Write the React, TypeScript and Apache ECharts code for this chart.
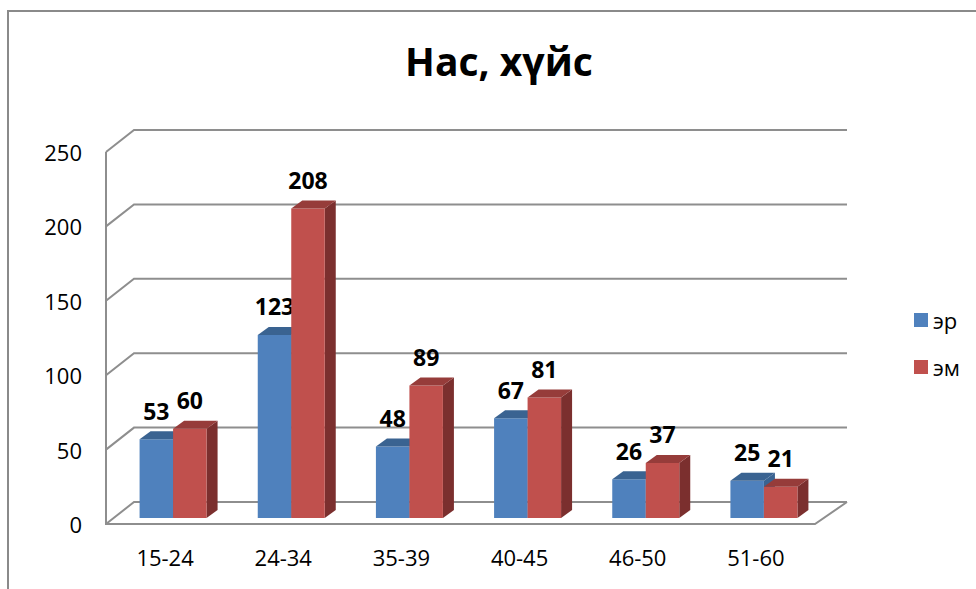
import React, { useEffect, useRef } from "react";
import * as echarts from "echarts";

const categories = ["15-24", "24-34", "35-39", "40-45", "46-50", "51-60"];
const erValues = [53, 123, 48, 67, 26, 25];
const emValues = [60, 208, 89, 81, 37, 21];
const yTicks = [0, 50, 100, 150, 200, 250];

const FONT = "'Open Sans', 'Noto Sans', sans-serif";
const GRID_COLOR = "#8e8e8e";
// perspective offsets
const WALL_DX = 28;
const WALL_DY = -22;
const BAR_SHIFT_X = 8;
const BAR_SHIFT_Y = -6;
const BAR_DX = 11;
const BAR_DY = -8;
const BAR_W = 33.5;

function makeBarRender(side: "left" | "right", front: string, top: string, sideColor: string) {
  return (params: any, api: any) => {
    const ci = api.value(0);
    const val = api.value(1);
    const p = api.coord([ci, val]);
    const p0 = api.coord([ci, 0]);
    const cx = p[0] + BAR_SHIFT_X;
    const x1 = side === "left" ? cx - BAR_W : cx;
    const x2 = side === "left" ? cx : cx + BAR_W;
    const yt = p[1] + BAR_SHIFT_Y;
    const yb = p0[1] + BAR_SHIFT_Y;
    return {
      type: "group",
      children: [
        {
          type: "polygon",
          shape: { points: [[x2, yt], [x2 + BAR_DX, yt + BAR_DY], [x2 + BAR_DX, yb + BAR_DY], [x2, yb]] },
          style: { fill: sideColor },
        },
        {
          type: "rect",
          shape: { x: x1, y: yt, width: x2 - x1, height: yb - yt },
          style: { fill: front },
        },
        {
          type: "polygon",
          shape: { points: [[x1, yt], [x2, yt], [x2 + BAR_DX, yt + BAR_DY], [x1 + BAR_DX, yt + BAR_DY]] },
          style: { fill: top },
        },
        {
          type: "text",
          x: (x1 + x2) / 2,
          y: yt + BAR_DY - 9,
          style: {
            text: String(val),
            fill: "#000",
            font: `bold 23px ${FONT}`,
            textAlign: "center",
            textVerticalAlign: "bottom",
          },
        },
      ],
    };
  };
}

function renderWalls(params: any, api: any) {
  const v = api.value(1);
  const cs = params.coordSys;
  const x0 = cs.x;
  const x1 = cs.x + cs.width;
  const y = api.coord([0, v])[1];
  const stroke = { stroke: GRID_COLOR, lineWidth: 2, fill: "none" };
  const children: any[] = [
    {
      type: "polyline",
      shape: { points: [[x0, y], [x0 + WALL_DX, y + WALL_DY], [x1 + 32, y + WALL_DY]] },
      style: stroke,
    },
  ];
  if (v === 0) {
    const yTop = api.coord([0, yTicks[yTicks.length - 1]])[1];
    children.push({
      type: "polyline",
      shape: { points: [[x0, yTop], [x0, y], [x1, y], [x1 + 32, y + WALL_DY]] },
      style: stroke,
    });
  }
  return { type: "group", children };
}

export default function App() {
  const ref = useRef<HTMLDivElement>(null);
  useEffect(() => {
    if (!ref.current) return;
    const chart = echarts.init(ref.current, null, { renderer: "svg" });
    chart.setOption({
      animation: false,
      backgroundColor: "#fff",
      textStyle: { fontFamily: FONT },
      graphic: [
        {
          type: "rect",
          z: -10,
          shape: { x: 8, y: 11, width: 1200, height: 1000 },
          style: { fill: "none", stroke: "#8a8a8a", lineWidth: 2 },
        },
        {
          type: "text",
          x: 499,
          y: 60,
          style: {
            text: "Нас, хүйс",
            font: `bold 39px ${FONT}`,
            fill: "#000",
            textAlign: "center",
            textVerticalAlign: "middle",
          },
        },
      ],
      legend: {
        data: ["эр", "эм"],
        orient: "vertical",
        left: 909,
        top: 304,
        icon: "rect",
        itemWidth: 14,
        itemHeight: 14,
        itemGap: 25,
        textStyle: { fontSize: 22, color: "#000", fontFamily: FONT },
      },
      grid: { left: 106, top: 152, width: 709, height: 372 },
      xAxis: {
        type: "category",
        data: categories,
        axisLine: { show: false },
        axisTick: { show: false },
        axisLabel: { fontSize: 22, color: "#000", margin: 22, fontFamily: FONT },
      },
      yAxis: {
        type: "value",
        min: 0,
        max: 250,
        interval: 50,
        axisLine: { show: false },
        axisTick: { show: false },
        splitLine: { show: false },
        axisLabel: { fontSize: 22, color: "#000", margin: 24, fontFamily: FONT },
      },
      series: [
        {
          name: "walls",
          type: "custom",
          z: 1,
          renderItem: renderWalls,
          data: yTicks.map((v) => [0, v]),
          encode: { x: 0, y: 1 },
          silent: true,
        },
        {
          name: "эр",
          type: "custom",
          z: 2,
          itemStyle: { color: "#4F81BD" },
          renderItem: makeBarRender("left", "#4F81BD", "#3A6391", "#3A6391"),
          data: erValues.map((v, i) => [i, v]),
          encode: { x: 0, y: 1 },
        },
        {
          name: "эм",
          type: "custom",
          z: 3,
          itemStyle: { color: "#C0504D" },
          renderItem: makeBarRender("right", "#C0504D", "#963C3A", "#7B2F2E"),
          data: emValues.map((v, i) => [i, v]),
          encode: { x: 0, y: 1 },
        },
      ],
    });
    return () => chart.dispose();
  }, []);
  return (
    <div
      ref={ref}
      style={{ position: "fixed", left: 0, top: 0, width: 976, height: 589, background: "#fff" }}
    />
  );
}
